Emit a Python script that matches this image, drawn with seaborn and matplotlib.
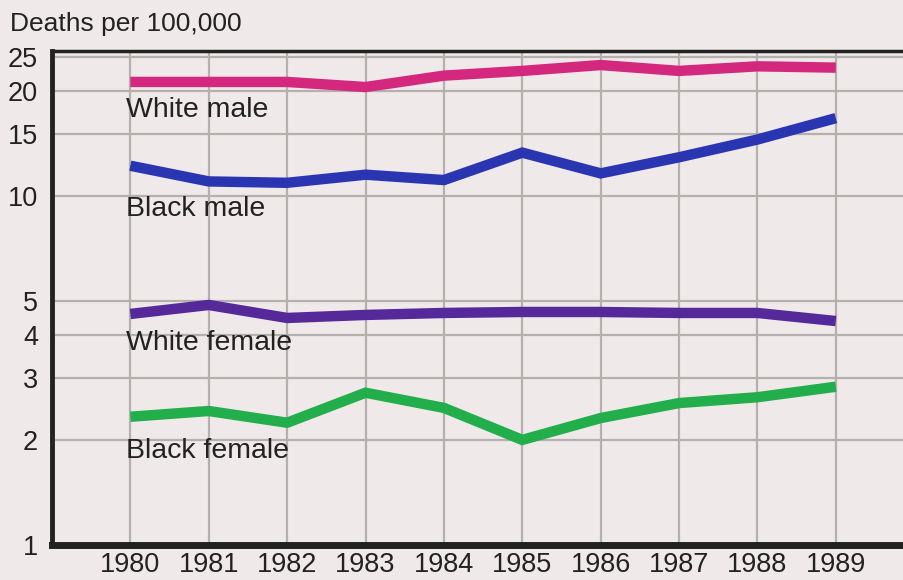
import matplotlib
matplotlib.use("Agg")
import matplotlib.pyplot as plt
from matplotlib.ticker import FixedLocator, NullLocator, FixedFormatter
import pandas as pd
import seaborn as sns

# ------------------------------------------------------
# Data (deaths per 100,000)
# ------------------------------------------------------
years = [1980, 1981, 1982, 1983, 1984, 1985, 1986, 1987, 1988, 1989]
white_male = [21.2, 21.2, 21.2, 20.5, 22.1, 22.8, 23.7, 22.8, 23.5, 23.3]
black_male = [12.2, 11.0, 10.9, 11.5, 11.1, 13.3, 11.6, 12.9, 14.5, 16.7]
white_female = [4.59, 4.87, 4.47, 4.56, 4.62, 4.65, 4.65, 4.62, 4.62, 4.38]
black_female = [2.33, 2.42, 2.24, 2.73, 2.47, 2.0, 2.31, 2.55, 2.65, 2.84]

groups = ["White male", "Black male", "White female", "Black female"]
colors = ["#d4287f", "#2a35b2", "#55299a", "#22ae4a"]
yticks = [1, 2, 3, 4, 5, 10, 15, 20, 25]

df = pd.DataFrame({
    "year": years * 4,
    "rate": white_male + black_male + white_female + black_female,
    "group": [g for g in groups for _ in years],
})

bg = "#efe9e9"
sns.set_style("white")
plt.rcParams["font.family"] = ["Liberation Sans", "DejaVu Sans"]

fig = plt.figure(figsize=(9.04, 5.80), dpi=100, facecolor=bg)
ax = fig.add_axes([52 / 904, 35 / 580, 1 - 52 / 904, 494 / 580])
ax.set_facecolor(bg)

sns.lineplot(data=df, x="year", y="rate", hue="group", palette=colors,
             linewidth=7.5, legend=False, ax=ax, zorder=3)
for line in ax.get_lines():
    line.set_solid_capstyle("butt")
    line.set_solid_joinstyle("miter")

ax.set_yscale("log")
ax.set_ylim(1, 26)
ax.set_xlim(1979, 1989.87)

ax.yaxis.set_major_locator(FixedLocator(yticks))
ax.yaxis.set_major_formatter(FixedFormatter([str(t) for t in yticks]))
ax.yaxis.set_minor_locator(NullLocator())
ax.set_xticks(years)
ax.set_xticklabels([str(y) for y in years])

ax.grid(True, which="major", color="#b3b0ae", linewidth=1.6, zorder=1)
ax.tick_params(axis="both", direction="in", length=8, width=3,
               color="#222222", labelsize=19.5, labelcolor="#222222")
ax.tick_params(axis="y", pad=10)
ax.tick_params(axis="x", pad=5)

ax.spines["right"].set_visible(False)
ax.spines["left"].set_linewidth(3.5)
ax.spines["bottom"].set_linewidth(5)
ax.spines["top"].set_linewidth(2.5)
for s in ["left", "bottom", "top"]:
    ax.spines[s].set_color("#222222")

ax.set_xlabel("")
ax.set_ylabel("")

# Series labels
label_pos = [17.6, 9.2, 3.78, 1.86]
for g, yv in zip(groups, label_pos):
    ax.text(1979.94, yv, g, fontsize=20.5, color="#222222",
            ha="left", va="center", zorder=4)

fig.text(10 / 904, 1 - 24 / 580, "Deaths per 100,000", fontsize=19,
         color="#222222", ha="left", va="center")

fig.savefig("out.png", dpi=100, facecolor=bg)
